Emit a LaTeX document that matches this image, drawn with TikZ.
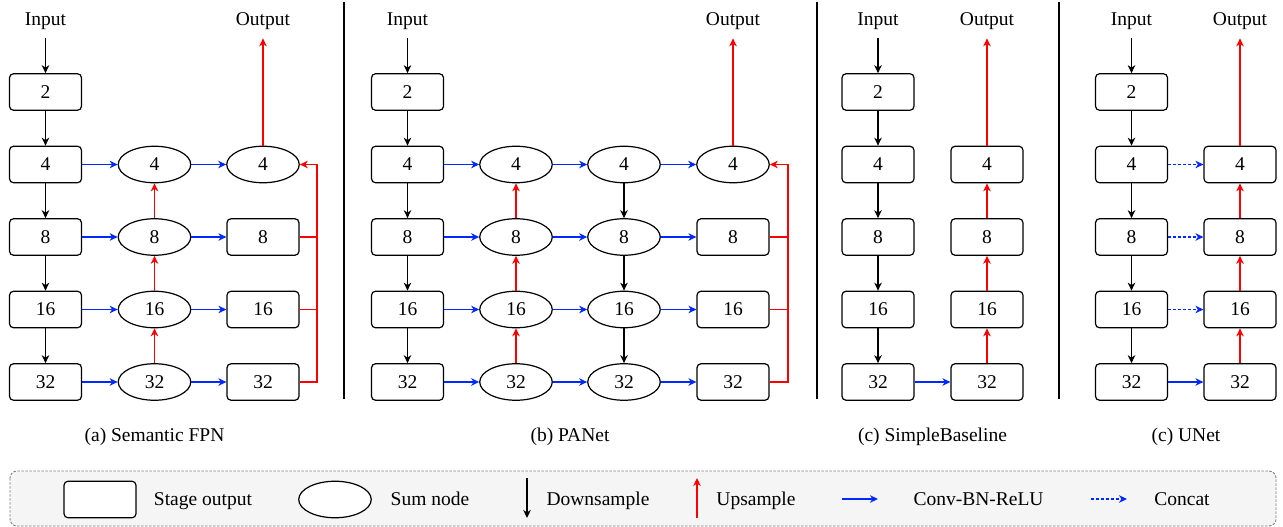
\documentclass[tikz,border=0pt]{standalone}
\usepackage{fontspec}
\setmainfont{Liberation Serif}
\usetikzlibrary{arrows.meta,shapes.geometric}
\definecolor{upred}{RGB}{255,0,0}
\definecolor{cvblue}{RGB}{0,40,255}
\begin{document}
\begin{tikzpicture}[x=1pt,y=-1pt,
  every node/.style={font=\fontsize{19.5}{23}\selectfont},
  box/.style={draw, line width=1.2pt, rounded corners=4pt, minimum width=72pt, minimum height=36.5pt, inner sep=0pt},
  sumn/.style={draw, line width=1.2pt, ellipse, minimum width=72.5pt, minimum height=36.5pt, inner sep=0pt},
  lbl/.style={inner xsep=0pt, inner ysep=8pt},
  conn/.style={line width=1.3pt, -{Stealth[length=8pt,width=7.5pt,inset=2.5pt]}},
  dn/.style={conn, black},
  upr/.style={conn, upred},
  cbr/.style={conn, cvblue},
  cat/.style={conn, cvblue, dash pattern=on 3pt off 2pt},
  redl/.style={line width=1.3pt, upred},
  sep/.style={line width=1.2pt, black},
]
\fill[white] (0,0) rectangle (1283,527);
\useasboundingbox (0,0) rectangle (1283,527);

% ---------- separators
\draw[sep] (344,2) -- (344,399);
\draw[sep] (817,2) -- (817,399);
\draw[sep] (1059,2) -- (1059,399);

% ================= (a) Semantic FPN
\foreach \r/\y in {2/92,4/164.5,8/237,16/309.5,32/382}
  \node[box] (a\r) at (45.5,\y) {\r};
\foreach \r/\y in {4/164.5,8/237,16/309.5,32/382}
  \node[sumn] (ae\r) at (154.5,\y) {\r};
\node[sumn] (ao4) at (263,164.5) {4};
\foreach \r/\y in {8/237,16/309.5,32/382}
  \node[box] (ao\r) at (263,\y) {\r};
\node[lbl, anchor=base] (inA) at (45.5,26) {Input};
\node[lbl, anchor=base] (outA) at (263,26) {Output};
\coordinate (busA) at (317,164.5);
\draw[dn] (inA) -- (a2);
\foreach \p/\q in {2/4,4/8,8/16,16/32} \draw[dn] (a\p) -- (a\q);
\foreach \r in {4,8,16,32} {
  \draw[cbr] (a\r) -- (ae\r);
  \draw[cbr] (ae\r) -- (ao\r);
}
\foreach \p/\q in {32/16,16/8,8/4} \draw[upr] (ae\p) -- (ae\q);
\draw[redl] (ao8.east) -- (ao8.east -| busA);
\draw[redl] (ao16.east) -- (ao16.east -| busA);
\draw[upr] (ao32.east) -| (busA) -- (ao4);
\draw[upr] (ao4) -- (outA);
\node (capA) at (154.5,437) {(a) Semantic FPN};

% ================= (b) PANet
\foreach \r/\y in {2/92,4/164.5,8/237,16/309.5,32/382}
  \node[box] (b\r) at (407.5,\y) {\r};
\foreach \r/\y in {4/164.5,8/237,16/309.5,32/382} {
  \node[sumn] (bp\r) at (516,\y) {\r};
  \node[sumn] (bq\r) at (624,\y) {\r};
}
\node[sumn] (bo4) at (733,164.5) {4};
\foreach \r/\y in {8/237,16/309.5,32/382}
  \node[box] (bo\r) at (733,\y) {\r};
\node[lbl, anchor=base] (inB) at (407.5,26) {Input};
\node[lbl, anchor=base] (outB) at (733,26) {Output};
\coordinate (busB) at (788,164.5);
\draw[dn] (inB) -- (b2);
\foreach \p/\q in {2/4,4/8,8/16,16/32} \draw[dn] (b\p) -- (b\q);
\foreach \r in {4,8,16,32} {
  \draw[cbr] (b\r) -- (bp\r);
  \draw[cbr] (bp\r) -- (bq\r);
  \draw[cbr] (bq\r) -- (bo\r);
}
\foreach \p/\q in {32/16,16/8,8/4} \draw[upr] (bp\p) -- (bp\q);
\foreach \p/\q in {4/8,8/16,16/32} \draw[dn] (bq\p) -- (bq\q);
\draw[redl] (bo8.east) -- (bo8.east -| busB);
\draw[redl] (bo16.east) -- (bo16.east -| busB);
\draw[upr] (bo32.east) -| (busB) -- (bo4);
\draw[upr] (bo4) -- (outB);
\node (capB) at (570,437) {(b) PANet};

% ================= (c) SimpleBaseline
\foreach \r/\y in {2/92,4/164.5,8/237,16/309.5,32/382}
  \node[box] (c\r) at (878,\y) {\r};
\foreach \r/\y in {4/164.5,8/237,16/309.5,32/382}
  \node[box] (co\r) at (987,\y) {\r};
\node[lbl, anchor=base] (inC) at (878,26) {Input};
\node[lbl, anchor=base] (outC) at (987,26) {Output};
\draw[dn] (inC) -- (c2);
\foreach \p/\q in {2/4,4/8,8/16,16/32} \draw[dn] (c\p) -- (c\q);
\draw[cbr] (c32) -- (co32);
\foreach \p/\q in {32/16,16/8,8/4} \draw[upr] (co\p) -- (co\q);
\draw[upr] (co4) -- (outC);
\node (capC) at (932.5,437) {(c) SimpleBaseline};

% ================= (d) UNet
\foreach \r/\y in {2/92,4/164.5,8/237,16/309.5,32/382}
  \node[box] (d\r) at (1131.5,\y) {\r};
\foreach \r/\y in {4/164.5,8/237,16/309.5,32/382}
  \node[box] (do\r) at (1240,\y) {\r};
\node[lbl, anchor=base] (inD) at (1131.5,26) {Input};
\node[lbl, anchor=base] (outD) at (1240,26) {Output};
\draw[dn] (inD) -- (d2);
\foreach \p/\q in {2/4,4/8,8/16,16/32} \draw[dn] (d\p) -- (d\q);
\foreach \r in {4,8,16} \draw[cat] (d\r) -- (do\r);
\draw[cbr] (d32) -- (do32);
\foreach \p/\q in {32/16,16/8,8/4} \draw[upr] (do\p) -- (do\q);
\draw[upr] (do4) -- (outD);
\node (capD) at (1186,437) {(c) UNet};

% ================= legend
\draw[gray, fill=gray!8, line width=0.9pt, dash pattern=on 2.5pt off 1.5pt, rounded corners=7pt] (10,471) rectangle (1276,526);
\node[box, fill=white] (lgbox) at (100,499.5) {};
\node[anchor=base] (lgt1) at (203,505) {Stage output};
\node[sumn, fill=white] (lgsum) at (335,499.5) {};
\node[anchor=base] (lgt2) at (430,505) {Sum node};
\coordinate (ld1) at (527,478);
\coordinate (ld2) at (527,518);
\draw[dn] (ld1) -- (ld2);
\node[anchor=base] (lgt3) at (598,505) {Downsample};
\coordinate (lu1) at (697,518);
\coordinate (lu2) at (697,478);
\draw[upr] (lu1) -- (lu2);
\node[anchor=base] (lgt4) at (756,505) {Upsample};
\coordinate (lc1) at (842,499);
\coordinate (lc2) at (878,499);
\draw[cbr] (lc1) -- (lc2);
\node[anchor=base] (lgt5) at (978.5,505) {Conv-BN-ReLU};
\coordinate (lk1) at (1091,499);
\coordinate (lk2) at (1127,499);
\draw[cat] (lk1) -- (lk2);
\node[anchor=base] (lgt6) at (1182,505) {Concat};
\end{tikzpicture}
\end{document}
